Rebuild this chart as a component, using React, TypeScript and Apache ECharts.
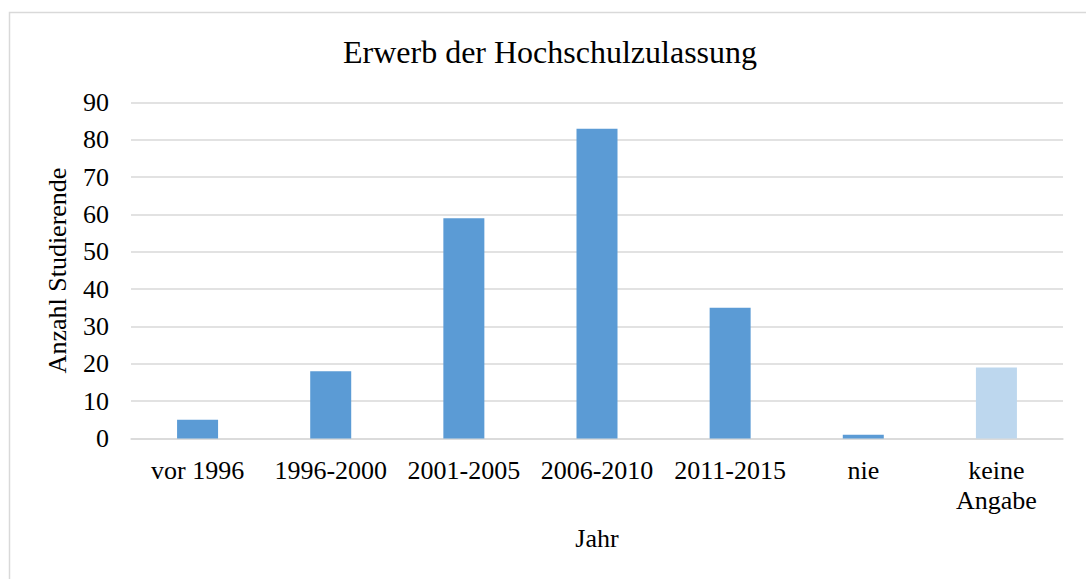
import React, { useEffect, useRef } from "react";
import * as echarts from "echarts";

const categories = ["vor 1996", "1996-2000", "2001-2005", "2006-2010", "2011-2015", "nie", "keine\nAngabe"];
const values = [5, 18, 59, 83, 35, 1, 19];
const barColors = ["#5B9BD5", "#5B9BD5", "#5B9BD5", "#5B9BD5", "#5B9BD5", "#5B9BD5", "#BDD7EE"];
const yTicks = [0, 10, 20, 30, 40, 50, 60, 70, 80, 90];

const FONT = "'Liberation Serif', 'Times New Roman', serif";

export default function App() {
  const ref = useRef<HTMLDivElement>(null);
  useEffect(() => {
    if (!ref.current) return;
    const chart = echarts.init(ref.current, null, { renderer: "svg" });
    chart.setOption({
      animation: false,
      backgroundColor: "#ffffff",
      graphic: [
        {
          type: "rect",
          shape: { x: 9.5, y: 12.5, width: 1100, height: 600 },
          style: { fill: "none", stroke: "#d9d9d9", lineWidth: 1.5 },
          silent: true,
        },
      ],
      title: {
        text: "Erwerb der Hochschulzulassung",
        left: 545,
        top: 31,
        textAlign: "center",
        textStyle: { fontFamily: FONT, fontSize: 32, fontWeight: "normal", color: "#000" },
      },
      grid: { left: 131, right: 23, top: 102.5, bottom: 140.5, containLabel: false },
      xAxis: {
        type: "category",
        data: categories,
        name: "Jahr",
        nameLocation: "middle",
        nameGap: 87,
        nameTextStyle: { fontFamily: FONT, fontSize: 26, color: "#000" },
        axisLine: { show: true, lineStyle: { color: "#d9d9d9", width: 1.5 } },
        axisTick: { show: false },
        axisLabel: { fontFamily: FONT, fontSize: 26, color: "#000", margin: 17, lineHeight: 30, interval: 0 },
      },
      yAxis: {
        type: "value",
        min: 0,
        max: 90,
        interval: 10,
        name: "Anzahl Studierende",
        nameLocation: "middle",
        nameGap: 61,
        nameRotate: 90,
        nameTextStyle: { fontFamily: FONT, fontSize: 26, color: "#000" },
        axisLine: { show: false },
        axisTick: { show: false },
        splitLine: { show: true, lineStyle: { color: "#d9d9d9", width: 1.5 } },
        axisLabel: {
          fontFamily: FONT,
          fontSize: 26,
          color: "#000",
          margin: 22,
          formatter: (v: number) => (yTicks.includes(v) ? String(v) : ""),
        },
      },
      series: [
        {
          type: "bar",
          data: values.map((v, i) => ({ value: v, itemStyle: { color: barColors[i] } })),
          barWidth: 41,
        },
      ],
    });
    return () => chart.dispose();
  }, []);
  return (
    <div
      ref={ref}
      style={{ position: "fixed", left: 0, top: 0, width: 1086, height: 579, background: "#fff" }}
    />
  );
}
